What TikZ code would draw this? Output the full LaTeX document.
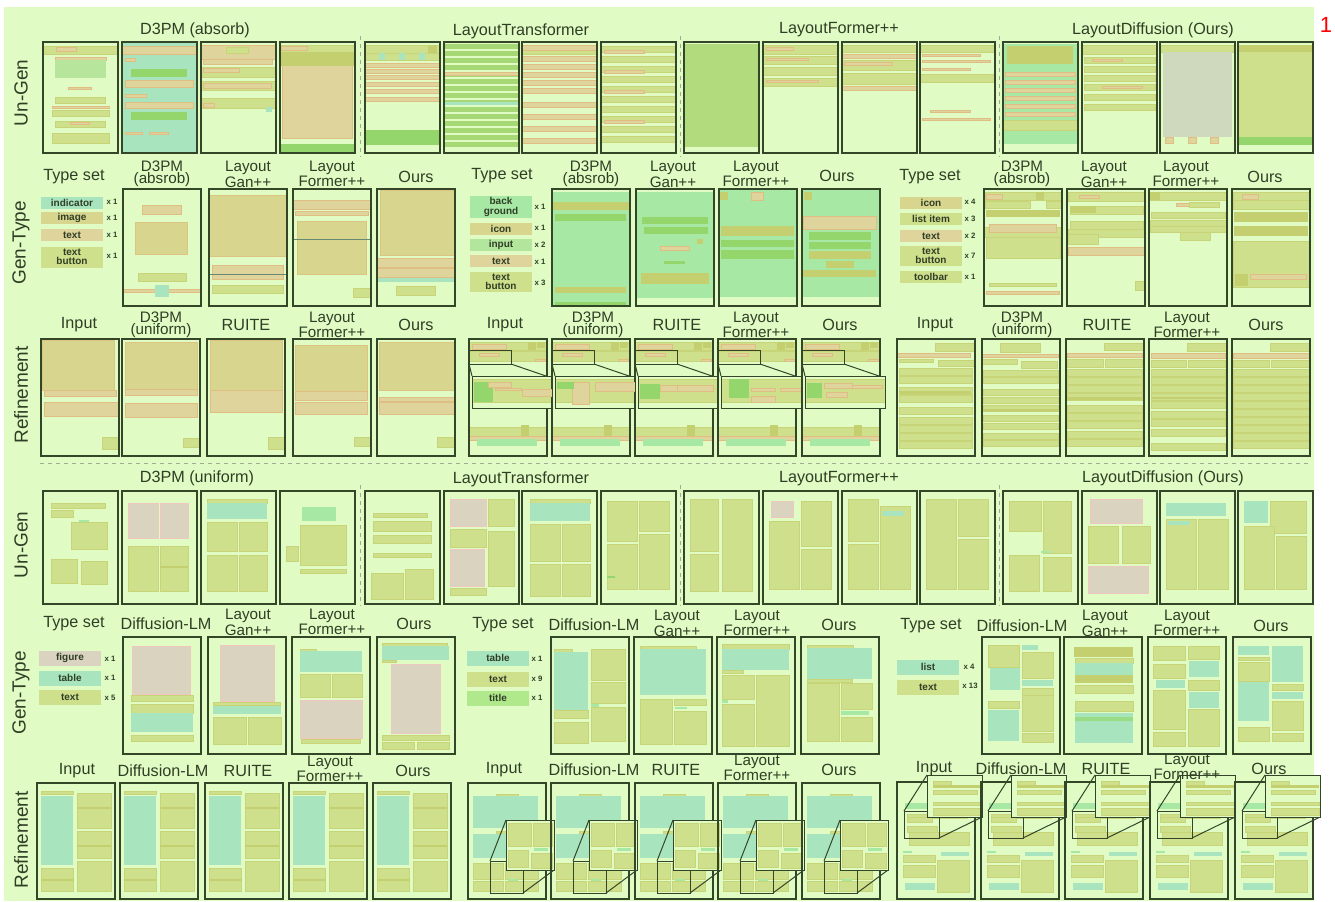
\documentclass[tikz,border=0pt]{standalone}
\usepackage{fontspec}
\setmainfont{Liberation Sans}

% colours of the figure
\definecolor{bgc}{RGB}{224,252,196}
\definecolor{ink}{RGB}{48,62,38}
\definecolor{framec}{RGB}{52,70,40}
\definecolor{tanc}{RGB}{222,212,156}
\definecolor{imgc}{RGB}{216,214,142}
\definecolor{olic}{RGB}{207,224,140}
\definecolor{olid}{RGB}{196,208,112}
\definecolor{grnc}{RGB}{166,232,164}
\definecolor{grnd}{RGB}{148,214,108}
\definecolor{teac}{RGB}{168,229,190}
\definecolor{figc}{RGB}{217,211,192}
\definecolor{greyc}{RGB}{207,217,190}
\definecolor{orgc}{RGB}{226,170,110}
\definecolor{sepc}{RGB}{160,170,150}
\definecolor{titc}{RGB}{176,232,140}

\tikzset{
  frm/.style={draw=framec, line width=0.6pt},
  lens/.style={draw=framec, line width=0.5pt},
  hdr/.style={font=\fontsize{8.1}{7}\selectfont, text=ink, inner sep=0pt},
  hdrtwo/.style={font=\fontsize{7.6}{6.2}\selectfont, text=ink, align=center, inner sep=0pt},
  rowlab/.style={font=\fontsize{9.5}{9.5}\selectfont, text=ink, rotate=90, inner sep=0pt},
  chip/.style={minimum width=31pt, minimum height=6pt, inner sep=0pt,
    font=\bfseries\fontsize{5}{4.6}\selectfont, text=ink, align=center},
  cnt/.style={font=\bfseries\fontsize{3.9}{4}\selectfont, text=ink, inner sep=0pt},
  tx/.style={fill=tanc, draw=orgc!55!tanc, line width=0.2pt},
  im/.style={fill=imgc, draw=orgc!40!imgc, line width=0.2pt},
  ol/.style={fill=olic, draw=olid!70!olic, line width=0.2pt},
  od/.style={fill=olid},
  gr/.style={fill=grnc},
  gd/.style={fill=grnd},
  te/.style={fill=teac},
  fg/.style={fill=figc, draw=pink!60!figc, line width=0.2pt},
  sep/.style={draw=sepc, line width=0.4pt, dash pattern=on 2pt off 2pt},
}

% one layout page: x, y, width, height, content
\newcommand{\docpage}[5]{%
  \begin{scope}[shift={(#1,#2)}]
    #5
    \draw[frm] (0,0) rectangle (#3,#4);
  \end{scope}}

\begin{document}
\begin{tikzpicture}[x=0.5pt, y=-0.5pt]
  \useasboundingbox (0,0) rectangle (1335,901);
  \fill[bgc] (4,7) rectangle (1314,901);
  \node[font=\fontsize{11}{11}\selectfont, text=red] (pnum) at (1326,25) {1};

  % separators
  \draw[sep] (40,463) -- (1310,463);
  \foreach \sx in {360,680,999} {
    \draw[sep] (\sx,36) -- (\sx,157);
    \draw[sep] (\sx,485) -- (\sx,606);
  }

  %% ---------- row 1: Un-Gen (top) ----------
  \docpage{43}{42}{75}{111}{
    \fill[ol] (0,4) rectangle (75,12); \fill[tx] (13,5) rectangle (33,9);
    \fill[tx] (12,15) rectangle (63,18); \fill[grnc!60!olic] (12,18) rectangle (63,36);
    \fill[tx] (25,45) rectangle (48,47); \fill[ol] (12,55) rectangle (62,61);
    \fill[tx] (9,64) rectangle (66,66); \fill[ol] (9,68) rectangle (66,74);
    \fill[ol] (12,79) rectangle (62,85); \fill[tx] (27,80) rectangle (46,82);
    \fill[ol] (9,91) rectangle (66,101);}
  \docpage{122}{42}{75}{111}{
    \fill[te] (0,0) rectangle (75,111); \fill[tx] (0,4) rectangle (75,12);
    \fill[tx] (3,16) rectangle (13,19); \fill[gd] (9,27) rectangle (65,35);
    \fill[tx] (3,38) rectangle (71,45); \fill[tx] (3,52) rectangle (24,55);
    \fill[tx] (3,60) rectangle (71,66); \fill[gd] (9,70) rectangle (65,78);
    \fill[tx] (3,90) rectangle (20,92); \fill[tx] (27,90) rectangle (46,92);}
  \docpage{201}{42}{75}{111}{
    \fill[tx] (0,3) rectangle (75,17); \fill[ol] (25,5) rectangle (47,11);
    \fill[tx] (2,17) rectangle (71,22); \fill[ol] (0,25) rectangle (75,35);
    \fill[tx] (2,26) rectangle (38,30); \fill[ol] (0,39) rectangle (75,48);
    \fill[tx] (2,41) rectangle (70,46); \fill[ol] (0,56) rectangle (75,66);
    \fill[tx] (2,61) rectangle (13,65); \fill[te] (65,65) rectangle (71,70);}
  \docpage{280}{42}{75}{111}{
    \fill[ol] (0,3) rectangle (75,10); \fill[tx] (1,4) rectangle (27,8);
    \fill[tx] (2,10) rectangle (72,96); \fill[od] (0,10) rectangle (75,24);
    \fill[gd] (0,102) rectangle (75,111);}
  % LayoutTransformer
  \docpage{365}{42}{75}{111}{
    \fill[ol] (0,3) rectangle (75,11); \fill[od] (63,3) rectangle (72,11);
    \fill[ol] (0,11) rectangle (75,18);
    \foreach \i in {14,34,54} {\fill[te] (\i,11) rectangle ++(6,7);}
    \foreach \j in {21,27,33,40,47,55} {\fill[tx] (0,\j) rectangle ++(75,4);}
    \fill[gd] (0,88) rectangle (75,103);}
  \docpage{444}{42}{75}{111}{
    \foreach \j in {2,9,...,100} {\fill[grnd!70!olic] (0,\j) rectangle ++(75,5);}
    \fill[tx] (0,30) rectangle (75,33); \fill[te] (0,60) rectangle (75,63);}
  \docpage{522}{42}{75}{111}{
    \fill[ol] (0,6) rectangle (75,12);
    \foreach \j in {3,14,22,30,38,46,60,72,84,96} {\fill[tx] (0,\j) rectangle ++(75,5);}}
  \docpage{601}{42}{75}{111}{
    \foreach \j in {4,14,24,34,44,54,64,74,84,94} {\fill[ol] (0,\j) rectangle ++(75,6);}
    \foreach \j in {8,28,48,78} {\fill[tx] (3,\j) rectangle ++(40,3);}}
  % LayoutFormer++
  \docpage{684}{42}{75}{111}{
    \fill[grnd!50!olic] (0,2) rectangle (75,105);}
  \docpage{763}{42}{75}{111}{
    \fill[ol] (0,3) rectangle (75,12); \fill[tx] (3,5) rectangle (30,8);
    \fill[ol] (0,14) rectangle (75,22); \fill[tx] (3,16) rectangle (45,18);
    \fill[ol] (0,25) rectangle (75,33); \fill[ol] (0,36) rectangle (75,44);
    \fill[tx] (3,38) rectangle (55,40);}
  \docpage{842}{42}{75}{111}{
    \fill[ol] (0,3) rectangle (75,10); \fill[tx] (0,12) rectangle (75,16);
    \fill[ol] (0,18) rectangle (75,28); \fill[tx] (2,20) rectangle (50,23);
    \fill[ol] (0,31) rectangle (75,42); \fill[tx] (0,44) rectangle (75,48);}
  \docpage{920}{42}{75}{111}{
    \fill[ol] (0,3) rectangle (75,10); \fill[tx] (2,12) rectangle (60,14);
    \fill[tx] (2,18) rectangle (70,20); \fill[tx] (2,26) rectangle (50,28);
    \fill[ol] (0,32) rectangle (75,40); \fill[tx] (10,68) rectangle (50,70);
    \fill[tx] (2,76) rectangle (70,78);}
  % LayoutDiffusion (Ours)
  \docpage{1003}{42}{75}{111}{
    \fill[gr] (0,2) rectangle (75,102); \fill[od] (4,4) rectangle (70,22);
    \foreach \j in {30,38,46,54,62,70} {\fill[tx] (2,\j) rectangle ++(70,4);}
    \fill[ol] (0,78) rectangle (75,88);}
  \docpage{1082}{42}{75}{111}{
    \fill[ol] (0,3) rectangle (75,12);
    \foreach \j in {15,24,33,42,52,62} {\fill[ol] (2,\j) rectangle ++(71,6);}
    \fill[tx] (10,17) rectangle (40,19); \fill[tx] (20,44) rectangle (60,46);}
  \docpage{1160}{42}{75}{111}{
    \fill[ol] (0,3) rectangle (75,10); \fill[greyc] (3,10) rectangle (72,95);
    \foreach \i in {5,28,50} {\fill[tx] (\i,95) rectangle ++(8,6);}}
  \docpage{1238}{42}{75}{111}{
    \fill[ol] (0,3) rectangle (75,95); \fill[od] (0,3) rectangle (75,10);
    \fill[gd] (0,95) rectangle (75,103);}

  %% ---------- row 2: Gen-Type (top) ----------
  \docpage{123}{189}{78}{117}{
    \fill[tx] (19,16) rectangle (58,25); \fill[im] (12,33) rectangle (64,65);
    \fill[ol] (15,84) rectangle (63,92); \fill[tx] (0,100) rectangle (78,103);
    \fill[te] (32,96) rectangle (46,108);}
  \docpage{209}{189}{78}{117}{
    \fill[im] (0,6) rectangle (78,67); \fill[tx] (3,76) rectangle (74,90);
    \fill[teac!60!black] (0,85) rectangle (78,85.6); \fill[ol] (3,96) rectangle (74,104);}
  \docpage{293}{189}{78}{117}{
    \fill[tx] (0,11) rectangle (78,20); \fill[tx] (2,22) rectangle (75,26);
    \fill[im] (4,32) rectangle (73,85); \fill[teac!60!black] (0,50) rectangle (78,50.6);
    \fill[ol] (60,99) rectangle (78,108);}
  \docpage{377}{189}{78}{117}{
    \fill[im] (3,1) rectangle (78,66); \fill[tx] (0,69) rectangle (78,78);
    \fill[tx] (0,79) rectangle (78,88); \fill[te] (0,89) rectangle (78,93);
    \fill[ol] (19,97) rectangle (58,106);}
  \docpage{552}{189}{78}{117}{
    \fill[gr] (0,3) rectangle (78,117); \fill[od] (0,13) rectangle (78,21);
    \fill[gd] (3,25) rectangle (74,32); \fill[od] (3,98) rectangle (74,104);
    \fill[gd] (3,113) rectangle (74,117);}
  \docpage{636}{189}{78}{117}{
    \fill[gr] (0,3) rectangle (78,109); \fill[gd] (6,28) rectangle (72,35);
    \fill[gd] (8,38) rectangle (72,45); \fill[od] (61,50) rectangle (67,55);
    \fill[tx] (24,57) rectangle (53,61); \fill[gd] (28,72) rectangle (49,75);
    \fill[od] (5,84) rectangle (73,95);}
  \docpage{719}{189}{78}{117}{
    \fill[gr] (0,0) rectangle (78,108); \fill[od] (1,3) rectangle (9,11);
    \fill[tx] (32,3) rectangle (44,11); \fill[od] (2,37) rectangle (75,47);
    \fill[gd] (2,51) rectangle (75,58); \fill[gd] (2,61) rectangle (75,70);}
  \docpage{802}{189}{78}{117}{
    \fill[gr] (0,0) rectangle (78,108); \fill[od] (2,3) rectangle (10,11);
    \fill[tx] (1,27) rectangle (74,40); \fill[gd] (7,43) rectangle (69,51);
    \fill[gd] (7,53) rectangle (69,60); \fill[od] (7,62) rectangle (69,70);
    \fill[od] (24,72) rectangle (52,79); \fill[od] (1,81) rectangle (74,88);}
  \docpage{984}{189}{78}{117}{
    \fill[ol] (1,3) rectangle (77,11); \fill[tx] (2,5) rectangle (18,10);
    \fill[od] (52,3) rectangle (60,11); \fill[ol] (1,12) rectangle (46,19);
    \fill[ol] (62,12) rectangle (77,19); \fill[od] (2,21) rectangle (76,28);
    \fill[ol] (0,38) rectangle (78,48); \fill[tx] (5,35) rectangle (72,43);
    \fill[ol] (2,48) rectangle (76,69); \fill[ol] (5,94) rectangle (72,97);
    \fill[tx] (2,102) rectangle (75,105);}
  \docpage{1067}{189}{78}{117}{
    \fill[ol] (1,3) rectangle (78,12); \fill[tx] (12,6) rectangle (32,9);
    \fill[ol] (3,17) rectangle (76,25); \fill[od] (3,17) rectangle (29,24);
    \fill[ol] (3,32) rectangle (76,40); \fill[ol] (1,40) rectangle (78,48);
    \fill[ol] (1,45) rectangle (31,55); \fill[tx] (1,58) rectangle (78,66);
    \fill[ol] (68,92) rectangle (78,101);}
  \docpage{1149}{189}{78}{117}{
    \fill[ol] (1,3) rectangle (78,11); \fill[od] (1,3) rectangle (11,11);
    \fill[tx] (27,14) rectangle (40,17); \fill[ol] (40,13) rectangle (70,18);
    \fill[ol] (2,23) rectangle (76,29); \fill[ol] (1,31) rectangle (78,38);
    \fill[ol] (1,37) rectangle (78,43); \fill[ol] (31,43) rectangle (61,51);}
  \docpage{1232}{189}{78}{117}{
    \fill[ol] (1,3) rectangle (78,11); \fill[tx] (10,5) rectangle (26,10);
    \fill[ol] (1,11) rectangle (78,20); \fill[od] (2,23) rectangle (76,33);
    \fill[od] (2,37) rectangle (76,47); \fill[ol] (1,52) rectangle (78,98);
    \fill[od] (3,85) rectangle (16,97); \fill[tx] (18,85) rectangle (74,90);}

  % type sets
  \node[chip, fill=teac] (tA1) at (72,203) {indicator};
  \node[chip, fill=imgc] (tA2) at (72,218) {image};
  \node[chip, fill=tanc] (tA3) at (72,235) {text};
  \node[chip, fill=olic, minimum height=10.5pt] (tA4) at (72,257) {text\\button};
  \node[cnt] (kA1) at (112,202) {x 1};
  \node[cnt] (kA2) at (112,218) {x 1};
  \node[cnt] (kA3) at (112,235) {x 1};
  \node[cnt] (kA4) at (112,256) {x 1};
  \node[chip, fill=grnc, minimum height=11pt] (tB1) at (501,207) {back\\ground};
  \node[chip, fill=imgc] (tB2) at (501,229) {icon};
  \node[chip, fill=grnc!70!olic] (tB3) at (501,245) {input};
  \node[chip, fill=tanc] (tB4) at (501,261) {text};
  \node[chip, fill=olic, minimum height=10pt] (tB5) at (501,282) {text\\button};
  \node[cnt] (kB1) at (540,207) {x 1};
  \node[cnt] (kB2) at (540,228) {x 1};
  \node[cnt] (kB3) at (540,245) {x 2};
  \node[cnt] (kB4) at (540,262) {x 1};
  \node[cnt] (kB5) at (540,283) {x 3};
  \node[chip, fill=imgc] (tC1) at (931,203) {icon};
  \node[chip, fill=olic] (tC2) at (931,219) {list item};
  \node[chip, fill=tanc] (tC3) at (931,236) {text};
  \node[chip, fill=olic, minimum height=10pt] (tC4) at (931,256) {text\\button};
  \node[chip, fill=olic] (tC5) at (931,277) {toolbar};
  \node[cnt] (kC1) at (970,202) {x 4};
  \node[cnt] (kC2) at (970,219) {x 3};
  \node[cnt] (kC3) at (970,236) {x 2};
  \node[cnt] (kC4) at (970,256) {x 7};
  \node[cnt] (kC5) at (970,277) {x 1};

  %% ---------- row 3: Refinement (top) ----------
  \docpage{41}{339}{78}{117}{
    \fill[im] (1,1) rectangle (73,51); \fill[tx] (3,51) rectangle (75,57);
    \fill[tx] (3,63) rectangle (77,77); \fill[ol] (61,98) rectangle (78,110);}
  \docpage{122}{339}{78}{117}{
    \fill[im] (3,3) rectangle (75,50); \fill[tx] (3,50) rectangle (75,56);
    \fill[tx] (3,64) rectangle (75,78); \fill[ol] (61,99) rectangle (78,108);}
  \docpage{207}{339}{78}{117}{
    \fill[im] (3,1) rectangle (75,51); \fill[tx] (3,51) rectangle (75,73);
    \fill[ol] (61,98) rectangle (78,110);}
  \docpage{293}{339}{78}{117}{
    \fill[im] (2,6) rectangle (74,52); \fill[tx] (2,52) rectangle (74,61);
    \fill[tx] (2,63) rectangle (74,75); \fill[ol] (61,98) rectangle (78,107);}
  \docpage{377}{339}{78}{117}{
    \fill[im] (2,3) rectangle (78,51); \fill[tx] (2,58) rectangle (78,62);
    \fill[tx] (2,63) rectangle (78,75); \fill[ol] (60,98) rectangle (78,108);}
  % zoomed pages
  \foreach \px in {469,552,635,718,802} {
    \docpage{\px}{339}{78}{117}{
      \fill[ol] (0,3) rectangle (78,11); \fill[tx] (3,5) rectangle (37,10);
      \fill[od] (59,3) rectangle (67,11); \fill[od] (68,3) rectangle (76,9);
      \fill[ol] (0,12) rectangle (78,22); \fill[tx] (10,14) rectangle (30,17);
      \fill[tx] (66,20) rectangle (76,22);
      \fill[ol] (0,88) rectangle (78,97); \fill[od] (52,86) rectangle (60,97);
      \fill[tx] (0,97) rectangle (78,101); \fill[gr] (8,100) rectangle (68,107);}
    \begin{scope}[shift={(\px,339)}]
      \draw[lens] (0,11) rectangle (42,25);
      \draw[lens] (0,25) -- (3,37);
      \draw[lens] (42,25) -- (77,37);
      \fill[bgc] (3,37) rectangle (83,69);
      \fill[ol] (3,40) rectangle (83,63);
    \end{scope}
  }
  \begin{scope}[shift={(469,339)}]
    \fill[gd] (5,43) rectangle (24,63); \fill[tx] (19,43) rectangle (42,48);
    \fill[tx] (26,49) rectangle (52,51); \fill[tx] (53,50) rectangle (83,57);
    \draw[lens] (3,37) rectangle (83,69);
  \end{scope}
  \begin{scope}[shift={(552,339)}]
    \fill[tx] (20,43) rectangle (37,65); \fill[gd] (5,43) rectangle (22,50);
    \fill[tx] (43,43) rectangle (83,52);
    \draw[lens] (3,37) rectangle (83,69);
  \end{scope}
  \begin{scope}[shift={(635,339)}]
    \fill[gd] (5,45) rectangle (25,60); \fill[tx] (25,46) rectangle (42,52);
    \fill[tx] (42,46) rectangle (78,52);
    \draw[lens] (3,37) rectangle (83,69);
  \end{scope}
  \begin{scope}[shift={(718,339)}]
    \fill[gd] (11,40) rectangle (31,59); \fill[tx] (33,49) rectangle (57,52);
    \fill[tx] (33,57) rectangle (57,63); \fill[tx] (62,49) rectangle (83,52);
    \draw[lens] (3,37) rectangle (83,69);
  \end{scope}
  \begin{scope}[shift={(802,339)}]
    \fill[gd] (5,44) rectangle (20,59); \fill[tx] (22,44) rectangle (50,49);
    \fill[tx] (50,46) rectangle (80,49); \fill[tx] (24,53) rectangle (45,58);
    \draw[lens] (3,37) rectangle (83,69);
  \end{scope}
  % text-heavy pages
  \docpage{897}{339}{78}{117}{
    \fill[ol] (38,4) rectangle (78,12); \fill[tx] (0,14) rectangle (73,18);
    \fill[ol] (2,20) rectangle (36,23); \fill[ol] (41,21) rectangle (78,27);
    \foreach \j in {29,37,48,56,68,78,86,94,102} {\fill[ol] (2,\j) rectangle ++(73,7);}
    \fill[od] (2,52) rectangle (74,55);}
  \docpage{982}{339}{78}{117}{
    \fill[ol] (18,4) rectangle (58,13); \fill[tx] (0,15) rectangle (76,18);
    \fill[ol] (0,20) rectangle (35,25); \fill[ol] (39,22) rectangle (75,29);
    \foreach \j in {31,38,50,58,66,76,84,94,101} {\fill[ol] (1,\j) rectangle ++(75,6);}
    \fill[od] (1,70) rectangle (76,73);}
  \docpage{1066}{339}{78}{117}{
    \fill[ol] (38,4) rectangle (78,11); \fill[tx] (1,14) rectangle (76,18);
    \fill[ol] (1,20) rectangle (37,28); \fill[ol] (39,20) rectangle (76,28);
    \foreach \j in {30,38,46,54,66,74,82,92,100} {\fill[ol] (1,\j) rectangle ++(75,7);}
    \fill[od] (1,58) rectangle (76,61);}
  \docpage{1149}{339}{78}{117}{
    \fill[ol] (38,4) rectangle (78,12); \fill[tx] (2,14) rectangle (76,19);
    \fill[ol] (2,21) rectangle (37,28); \fill[ol] (39,21) rectangle (76,28);
    \foreach \j in {30,38,46,54,62,72,80,90,104} {\fill[ol] (2,\j) rectangle ++(74,7);}
    \fill[od] (2,58) rectangle (76,60);}
  \docpage{1232}{339}{78}{117}{
    \fill[ol] (38,4) rectangle (78,12); \fill[tx] (1,14) rectangle (78,19);
    \fill[ol] (1,21) rectangle (37,28); \fill[ol] (39,21) rectangle (78,28);
    \foreach \j in {30,38,46,54,62,70,78,86,94,102} {\fill[ol] (1,\j) rectangle ++(76,7);}}

  %% ---------- row 4: Un-Gen (bottom) ----------
  \docpage{43}{491}{75}{113}{
    \fill[ol] (8,12) rectangle (62,17); \fill[ol] (8,19) rectangle (30,26);
    \fill[ol] (28,31) rectangle (64,58); \fill[gr] (36,29) rectangle (46,31);
    \fill[ol] (8,68) rectangle (34,92); \fill[ol] (38,70) rectangle (64,93);}
  \docpage{122}{491}{75}{113}{
    \fill[fg] (6,12) rectangle (36,47); \fill[fg] (38,12) rectangle (66,47);
    \fill[ol] (6,55) rectangle (36,100); \fill[ol] (38,55) rectangle (66,100);
    \fill[od] (38,75) rectangle (66,77);}
  \docpage{201}{491}{75}{113}{
    \fill[ol] (6,8) rectangle (66,12); \fill[te] (6,12) rectangle (66,28);
    \fill[ol] (6,31) rectangle (36,60); \fill[ol] (38,31) rectangle (66,60);
    \fill[ol] (6,64) rectangle (36,100); \fill[ol] (38,64) rectangle (66,100);}
  \docpage{280}{491}{75}{113}{
    \fill[gr] (22,16) rectangle (56,30); \fill[ol] (20,34) rectangle (66,74);
    \fill[ol] (6,55) rectangle (18,70); \fill[ol] (20,78) rectangle (66,82);}
  \docpage{365}{491}{75}{113}{
    \fill[ol] (8,22) rectangle (62,26); \fill[ol] (8,30) rectangle (66,40);
    \fill[ol] (8,44) rectangle (66,52); \fill[ol] (8,62) rectangle (66,66);
    \fill[ol] (6,82) rectangle (38,108); \fill[ol] (40,78) rectangle (68,108);}
  \docpage{444}{491}{75}{113}{
    \fill[fg] (6,8) rectangle (42,35); \fill[ol] (44,8) rectangle (70,35);
    \fill[ol] (6,38) rectangle (42,56); \fill[fg] (6,58) rectangle (40,95);
    \fill[ol] (44,40) rectangle (70,95); \fill[ol] (6,97) rectangle (42,104);}
  \docpage{522}{491}{75}{113}{
    \fill[ol] (8,8) rectangle (68,12); \fill[te] (8,12) rectangle (68,30);
    \fill[ol] (8,33) rectangle (38,70); \fill[ol] (40,33) rectangle (68,70);
    \fill[ol] (8,73) rectangle (38,105); \fill[ol] (40,73) rectangle (68,105);}
  \docpage{601}{491}{75}{113}{
    \fill[ol] (6,10) rectangle (36,50); \fill[ol] (38,10) rectangle (68,40);
    \fill[ol] (6,53) rectangle (36,98); \fill[ol] (38,43) rectangle (68,98);
    \fill[gd] (6,85) rectangle (14,87);}
  \docpage{684}{491}{75}{113}{
    \fill[ol] (6,8) rectangle (34,60); \fill[ol] (38,8) rectangle (68,100);
    \fill[ol] (6,63) rectangle (34,100);}
  \docpage{763}{491}{75}{113}{
    \fill[fg] (8,10) rectangle (30,26); \fill[ol] (6,30) rectangle (36,98);
    \fill[ol] (38,10) rectangle (68,55); \fill[ol] (38,58) rectangle (68,98);}
  \docpage{842}{491}{75}{113}{
    \fill[ol] (6,8) rectangle (36,50); \fill[ol] (6,53) rectangle (36,98);
    \fill[ol] (38,15) rectangle (68,98); \fill[te] (40,20) rectangle (62,25);}
  \docpage{920}{491}{75}{113}{
    \fill[ol] (6,8) rectangle (36,98); \fill[ol] (38,8) rectangle (68,45);
    \fill[ol] (38,48) rectangle (68,98);}
  \docpage{1003}{491}{75}{113}{
    \fill[ol] (6,10) rectangle (38,40); \fill[ol] (40,10) rectangle (68,62);
    \fill[ol] (6,64) rectangle (36,100); \fill[ol] (40,66) rectangle (68,100);
    \fill[gr] (38,60) rectangle (48,62);}
  \docpage{1082}{491}{75}{113}{
    \fill[fg] (8,8) rectangle (60,32); \fill[ol] (6,35) rectangle (36,72);
    \fill[ol] (40,35) rectangle (68,72); \fill[fg] (6,75) rectangle (66,102);}
  \docpage{1160}{491}{75}{113}{
    \fill[te] (6,12) rectangle (66,25); \fill[ol] (6,28) rectangle (36,98);
    \fill[ol] (38,28) rectangle (68,98); \fill[te] (8,30) rectangle (30,34);}
  \docpage{1238}{491}{75}{113}{
    \fill[te] (6,10) rectangle (30,32); \fill[ol] (32,10) rectangle (68,42);
    \fill[ol] (6,35) rectangle (36,98); \fill[ol] (38,45) rectangle (68,98);}

  %% ---------- row 5: Gen-Type (bottom) ----------
  \docpage{123}{637}{78}{117}{
    \fill[fg] (9,9) rectangle (67,57); \fill[ol] (8,58) rectangle (70,64);
    \fill[ol] (8,67) rectangle (70,76); \fill[te] (8,76) rectangle (70,95);
    \fill[ol] (8,98) rectangle (70,104);}
  \docpage{208}{637}{78}{117}{
    \fill[fg] (12,8) rectangle (66,64); \fill[ol] (5,65) rectangle (72,68);
    \fill[te] (5,69) rectangle (73,77); \fill[ol] (5,80) rectangle (38,107);
    \fill[ol] (40,80) rectangle (73,107);}
  \docpage{292}{637}{78}{117}{
    \fill[ol] (8,12) rectangle (24,14); \fill[te] (8,14) rectangle (70,35);
    \fill[ol] (8,37) rectangle (38,60); \fill[ol] (40,37) rectangle (70,60);
    \fill[fg] (8,63) rectangle (70,101); \fill[ol] (9,102) rectangle (68,106);}
  \docpage{377}{637}{78}{117}{
    \fill[ol] (5,6) rectangle (70,9); \fill[te] (5,9) rectangle (72,23);
    \fill[ol] (5,23) rectangle (19,25); \fill[fg] (14,27) rectangle (63,96);
    \fill[ol] (5,98) rectangle (72,103); \fill[ol] (5,105) rectangle (37,112);
    \fill[ol] (40,105) rectangle (72,112);}
  \docpage{551}{637}{78}{117}{
    \fill[ol] (3,12) rectangle (21,15); \fill[te] (3,15) rectangle (37,73);
    \fill[ol] (3,73) rectangle (37,81); \fill[ol] (3,85) rectangle (37,106);
    \fill[ol] (40,12) rectangle (74,43); \fill[ol] (40,45) rectangle (74,66);
    \fill[gr] (40,67) rectangle (48,70); \fill[ol] (40,70) rectangle (74,104);}
  \docpage{634}{637}{78}{117}{
    \fill[ol] (6,9) rectangle (62,12); \fill[te] (6,12) rectangle (72,58);
    \fill[ol] (6,62) rectangle (38,107); \fill[ol] (40,62) rectangle (72,68);
    \fill[gr] (41,70) rectangle (53,72); \fill[ol] (40,74) rectangle (72,107);}
  \docpage{717}{637}{78}{117}{
    \fill[ol] (5,7) rectangle (72,12); \fill[te] (5,12) rectangle (72,33);
    \fill[ol] (5,33) rectangle (26,36); \fill[ol] (5,38) rectangle (37,62);
    \fill[gr] (5,63) rectangle (11,66); \fill[ol] (5,67) rectangle (37,109);
    \fill[ol] (39,38) rectangle (72,109);}
  \docpage{801}{637}{78}{117}{
    \fill[ol] (6,8) rectangle (52,11); \fill[te] (6,11) rectangle (71,42);
    \fill[ol] (6,42) rectangle (51,45); \fill[ol] (6,46) rectangle (38,104);
    \fill[ol] (40,46) rectangle (71,72); \fill[gr] (40,74) rectangle (68,78);
    \fill[ol] (40,80) rectangle (71,104);}
  \docpage{982}{637}{78}{117}{
    \fill[ol] (6,8) rectangle (37,30); \fill[te] (40,8) rectangle (56,13);
    \fill[ol] (40,15) rectangle (71,41); \fill[te] (8,31) rectangle (38,53);
    \fill[te] (40,43) rectangle (71,49); \fill[ol] (40,51) rectangle (71,58);
    \fill[ol] (6,64) rectangle (37,71); \fill[te] (6,73) rectangle (37,104);
    \fill[ol] (40,58) rectangle (71,94); \fill[ol] (40,96) rectangle (71,105);}
  \docpage{1064}{637}{78}{117}{
    \fill[od] (10,10) rectangle (69,20); \fill[ol] (11,21) rectangle (69,26);
    \fill[te] (11,26) rectangle (69,46); \fill[od] (11,38) rectangle (69,46);
    \fill[ol] (11,48) rectangle (69,56); \fill[ol] (11,64) rectangle (69,74);
    \fill[te] (11,76) rectangle (69,106); \fill[grnd!70!teac] (11,80) rectangle (69,84);}
  \docpage{1148}{637}{78}{117}{
    \fill[ol] (5,9) rectangle (37,23); \fill[ol] (40,9) rectangle (71,22);
    \fill[te] (41,24) rectangle (71,40); \fill[ol] (5,27) rectangle (37,41);
    \fill[te] (8,43) rectangle (37,51); \fill[ol] (40,43) rectangle (71,53);
    \fill[te] (41,55) rectangle (71,71); \fill[ol] (5,53) rectangle (37,92);
    \fill[ol] (40,72) rectangle (71,109); \fill[ol] (5,95) rectangle (37,109);}
  \docpage{1233}{637}{78}{117}{
    \fill[te] (5,9) rectangle (36,18); \fill[te] (39,9) rectangle (70,45);
    \fill[ol] (5,20) rectangle (36,23); \fill[ol] (5,25) rectangle (36,44);
    \fill[te] (5,45) rectangle (36,84); \fill[ol] (39,47) rectangle (70,53);
    \fill[te] (39,55) rectangle (70,62); \fill[ol] (39,64) rectangle (70,93);
    \fill[ol] (5,90) rectangle (36,104); \fill[ol] (39,96) rectangle (70,104);}

  % type sets
  \node[chip, fill=figc, minimum height=7.5pt] (tD1) at (70,658) {figure};
  \node[chip, fill=teac, minimum height=7.5pt] (tD2) at (70,678) {table};
  \node[chip, fill=olic, minimum height=7.5pt] (tD3) at (70,697) {text};
  \node[cnt] (kD1) at (110,659) {x 1};
  \node[cnt] (kD2) at (110,678) {x 1};
  \node[cnt] (kD3) at (110,698) {x 5};
  \node[chip, fill=teac, minimum height=7.5pt] (tE1) at (498,658) {table};
  \node[chip, fill=olic, minimum height=7.5pt] (tE2) at (498,679) {text};
  \node[chip, fill=titc, minimum height=7.5pt] (tE3) at (498,698) {title};
  \node[cnt] (kE1) at (537,659) {x 1};
  \node[cnt] (kE2) at (537,679) {x 9};
  \node[cnt] (kE3) at (537,698) {x 1};
  \node[chip, fill=teac, minimum height=7.5pt] (tF1) at (928,667) {list};
  \node[chip, fill=olic, minimum height=7.5pt] (tF2) at (928,687) {text};
  \node[cnt] (kF1) at (969,667) {x 4};
  \node[cnt] (kF2) at (970,686) {x 13};

  %% ---------- row 6: Refinement (bottom) ----------
  \foreach \px in {37,120,205,289,373} {
    \docpage{\px}{783}{78}{116}{
      \fill[ol] (4,8) rectangle (36,11); \fill[te] (4,13) rectangle (36,82);
      \fill[ol] (4,85) rectangle (36,108); \fill[ol] (40,10) rectangle (74,45);
      \fill[od] (40,24) rectangle (74,26); \fill[ol] (40,48) rectangle (74,75);
      \fill[od] (40,62) rectangle (74,64); \fill[ol] (40,78) rectangle (74,108);
      \fill[od] (4,96) rectangle (36,98);}
  }
  \foreach \px in {468,551,635,718,802} {
    \docpage{\px}{783}{78}{116}{
      \fill[ol] (28,11) rectangle (50,13); \fill[te] (5,13) rectangle (70,45);
      \fill[ol] (28,48) rectangle (40,50); \fill[te] (5,51) rectangle (70,75);
      \fill[ol] (5,80) rectangle (35,96); \fill[ol] (37,80) rectangle (70,96);
      \fill[ol] (5,98) rectangle (35,108); \fill[ol] (37,98) rectangle (70,108);
      \fill[gr] (40,96) rectangle (50,98);}
    \begin{scope}[shift={(\px,783)}]
      \draw[lens] (22,78) rectangle (55,110);
      \draw[lens] (22,78) -- (38,37);
      \draw[lens] (55,110) -- (86,87);
      \fill[bgc] (38,37) rectangle (86,87);
      \fill[ol] (40,40) rectangle (63,63); \fill[ol] (65,40) rectangle (84,63);
      \fill[ol] (40,67) rectangle (60,84); \fill[gr] (66,65) rectangle (80,68);
      \fill[ol] (63,70) rectangle (84,85);
      \draw[lens] (38,37) rectangle (86,87);
    \end{scope}
  }
  \foreach \px in {897,981,1065,1150,1235} {
    \docpage{\px}{782}{78}{117}{
      \fill[gr] (8,21) rectangle (72,27); \fill[ol] (10,32) rectangle (70,36);
      \fill[ol] (12,50) rectangle (72,63); \fill[gr] (6,69) rectangle (15,71);
      \fill[te] (44,70) rectangle (72,74); \fill[ol] (6,73) rectangle (38,80);
      \fill[ol] (6,83) rectangle (38,95); \fill[ol] (40,78) rectangle (72,110);
      \fill[te] (8,101) rectangle (38,108);}
    \begin{scope}[shift={(\px,782)}]
      \draw[lens] (7,29) rectangle (42,56);
      \fill[ol] (10,35) rectangle (35,40); \fill[ol] (10,44) rectangle (40,50);
      \draw[lens] (7,29) -- (30,-7);
      \draw[lens] (42,56) -- (85,35);
      \fill[bgc] (30,-7) rectangle (85,35);
      \fill[ol] (36,-1) rectangle (54,3); \fill[od] (36,3) rectangle (84,6);
      \fill[ol] (36,8) rectangle (80,12); \fill[ol] (36,20) rectangle (84,23);
      \fill[ol] (36,26) rectangle (84,33);
      \draw[lens] (30,-7) rectangle (85,35);
    \end{scope}
  }

  %% ---------- headers ----------
  \node[hdr] (hA1) at (195,30) {D3PM (absorb)};
  \node[hdr] (hA2) at (521,31) {LayoutTransformer};
  \node[hdr] (hA3) at (839,30) {LayoutFormer++};
  \node[hdr] (hA4) at (1153,30) {LayoutDiffusion (Ours)};

  \node[hdr] (hB0) at (74,177) {Type set};
  \node[hdrtwo] (hB1) at (162,174) {D3PM\\(absrob)};
  \node[hdrtwo] (hB2) at (248,174) {Layout\\Gan++};
  \node[hdrtwo] (hB3) at (332,174) {Layout\\Former++};
  \node[hdr] (hB4) at (416,177) {Ours};
  \node[hdr] (hB5) at (502,176) {Type set};
  \node[hdrtwo] (hB6) at (591,174) {D3PM\\(absrob)};
  \node[hdrtwo] (hB7) at (673,174) {Layout\\Gan++};
  \node[hdrtwo] (hB8) at (756,174) {Layout\\Former++};
  \node[hdr] (hB9) at (837,176) {Ours};
  \node[hdr] (hB10) at (930,177) {Type set};
  \node[hdrtwo] (hB11) at (1022,174) {D3PM\\(absrob)};
  \node[hdrtwo] (hB12) at (1104,174) {Layout\\Gan++};
  \node[hdrtwo] (hB13) at (1186,174) {Layout\\Former++};
  \node[hdr] (hB14) at (1265,177) {Ours};

  \node[hdr] (hC1) at (79,325) {Input};
  \node[hdrtwo] (hC2) at (161,325) {D3PM\\(uniform)};
  \node[hdr] (hC3) at (246,325) {RUITE};
  \node[hdrtwo] (hC4) at (332,325) {Layout\\Former++};
  \node[hdr] (hC5) at (416,325) {Ours};
  \node[hdr] (hC6) at (505,325) {Input};
  \node[hdrtwo] (hC7) at (593,325) {D3PM\\(uniform)};
  \node[hdr] (hC8) at (677,325) {RUITE};
  \node[hdrtwo] (hC9) at (756,325) {Layout\\Former++};
  \node[hdr] (hC10) at (840,325) {Ours};
  \node[hdr] (hC11) at (935,325) {Input};
  \node[hdrtwo] (hC12) at (1022,325) {D3PM\\(uniform)};
  \node[hdr] (hC13) at (1107,325) {RUITE};
  \node[hdrtwo] (hC14) at (1187,325) {Layout\\Former++};
  \node[hdr] (hC15) at (1266,325) {Ours};

  \node[hdr] (hD1) at (197,478) {D3PM (uniform)};
  \node[hdr] (hD2) at (521,479) {LayoutTransformer};
  \node[hdr] (hD3) at (839,479) {LayoutFormer++};
  \node[hdr] (hD4) at (1163,478) {LayoutDiffusion (Ours)};

  \node[hdr] (hE0) at (74,624) {Type set};
  \node[hdr] (hE1) at (166,624) {Diffusion-LM};
  \node[hdrtwo] (hE2) at (248,622) {Layout\\Gan++};
  \node[hdrtwo] (hE3) at (332,622) {Layout\\Former++};
  \node[hdr] (hE4) at (414,624) {Ours};
  \node[hdr] (hE5) at (503,625) {Type set};
  \node[hdr] (hE6) at (594,625) {Diffusion-LM};
  \node[hdrtwo] (hE7) at (677,623) {Layout\\Gan++};
  \node[hdrtwo] (hE8) at (757,623) {Layout\\Former++};
  \node[hdr] (hE9) at (839,625) {Ours};
  \node[hdr] (hE10) at (931,626) {Type set};
  \node[hdr] (hE11) at (1022,626) {Diffusion-LM};
  \node[hdrtwo] (hE12) at (1105,623) {Layout\\Gan++};
  \node[hdrtwo] (hE13) at (1187,623) {Layout\\Former++};
  \node[hdr] (hE14) at (1271,626) {Ours};

  \node[hdr] (hF1) at (77,771) {Input};
  \node[hdr] (hF2) at (163,771) {Diffusion-LM};
  \node[hdr] (hF3) at (248,771) {RUITE};
  \node[hdrtwo] (hF4) at (330,769) {Layout\\Former++};
  \node[hdr] (hF5) at (413,771) {Ours};
  \node[hdr] (hF6) at (504,770) {Input};
  \node[hdr] (hF7) at (594,770) {Diffusion-LM};
  \node[hdr] (hF8) at (676,770) {RUITE};
  \node[hdrtwo] (hF9) at (757,768) {Layout\\Former++};
  \node[hdr] (hF10) at (839,770) {Ours};
  \node[hdr] (hF11) at (934,769) {Input};
  \node[hdr] (hF12) at (1021,769) {Diffusion-LM};
  \node[hdr] (hF13) at (1106,769) {RUITE};
  \node[hdrtwo] (hF14) at (1187,767) {Layout\\Former++};
  \node[hdr] (hF15) at (1269,769) {Ours};

  %% ---------- row labels ----------
  \node[rowlab] (rUG1) at (21,93) {Un-Gen};
  \node[rowlab] (rGT1) at (21,243) {Gen-Type};
  \node[rowlab] (rRF1) at (21,395) {Refinement};
  \node[rowlab] (rUG2) at (21,545) {Un-Gen};
  \node[rowlab] (rGT2) at (21,693) {Gen-Type};
  \node[rowlab] (rRF2) at (21,840) {Refinement};
\end{tikzpicture}
\end{document}
